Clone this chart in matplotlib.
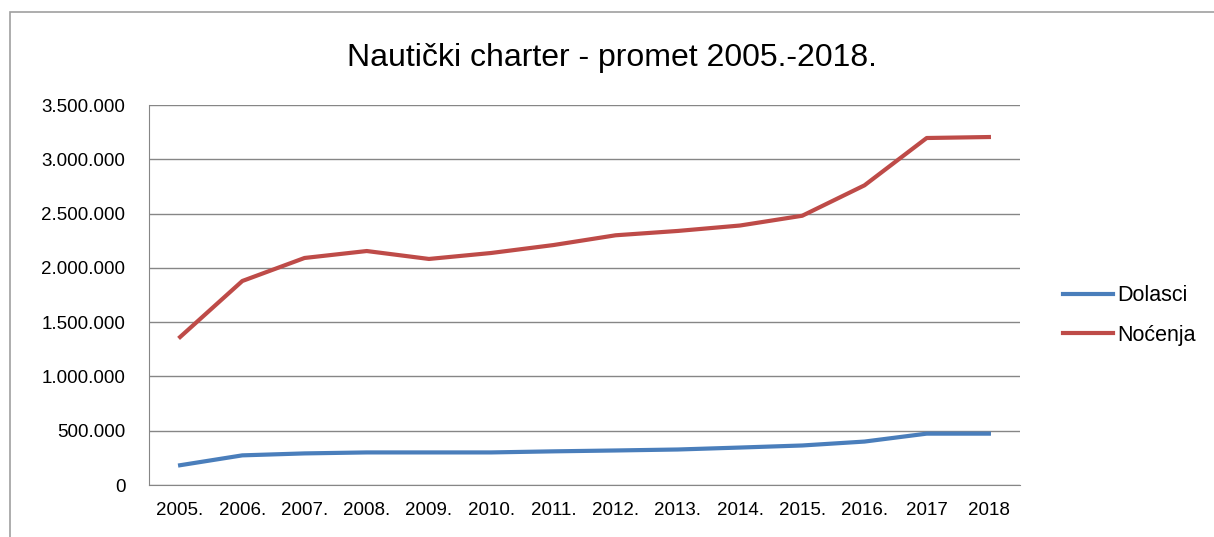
import matplotlib
matplotlib.use("Agg")
import matplotlib.pyplot as plt
from matplotlib.patches import Rectangle
from matplotlib.ticker import FuncFormatter

years = ["2005.", "2006.", "2007.", "2008.", "2009.", "2010.", "2011.",
         "2012.", "2013.", "2014.", "2015.", "2016.", "2017", "2018"]
dolasci = [182000, 273000, 291000, 300000, 300000, 300000, 310000,
           318000, 327000, 345000, 364000, 400000, 473000, 473000]
nocenja = [1363000, 1879000, 2091000, 2155000, 2082000, 2137000, 2210000,
           2300000, 2340000, 2390000, 2480000, 2760000, 3196000, 3205000]

fig = plt.figure(figsize=[12.14, 5.37], dpi=100)
fig.patches.append(Rectangle((10/1214, -0.1), 1.2, 1 - 12/537 + 0.1,
                             transform=fig.transFigure, fill=False,
                             edgecolor='#a0a0a0', linewidth=1.2))

ax = fig.add_axes([149/1214, 1 - 485/537, (1020 - 149)/1214, (485 - 105)/537])
x = range(len(years))
ax.plot(x, dolasci, color='#4a7ebb', linewidth=3, label='Dolasci')
ax.plot(x, nocenja, color='#be4b48', linewidth=3, label='Noćenja')

ax.set_xlim(-0.5, len(years) - 0.5)
ax.set_ylim(0, 3500000)
ax.set_yticks(range(0, 3500001, 500000))
ax.yaxis.set_major_formatter(FuncFormatter(lambda v, p: f"{int(v):,}".replace(",", ".")))
ax.set_xticks(list(x))
ax.set_xticklabels(years, fontsize=13.5, family='Liberation Sans')
for lbl in ax.get_yticklabels():
    lbl.set_family('Liberation Sans')
ax.grid(axis='y', color='#868686', linewidth=1)
ax.set_axisbelow(True)
ax.tick_params(length=0, pad=12)
ax.tick_params(axis='y', labelsize=13.5, pad=17)
for s in ['top', 'right']:
    ax.spines[s].set_visible(False)
for s in ['left', 'bottom']:
    ax.spines[s].set_color('#868686')

fig.text(612/1214, 1 - 58/537, "Nautički charter - promet 2005.-2018.",
         ha='center', va='center', fontsize=23, family='Liberation Sans')

fig.legend(loc='upper left', bbox_to_anchor=(1044/1214, 1 - 266/537),
           frameon=False, handlelength=2.3, handletextpad=0.2,
           labelspacing=0.85, prop={'family': 'Liberation Sans', 'size': 15.5})

plt.savefig("out.png", dpi=100)
